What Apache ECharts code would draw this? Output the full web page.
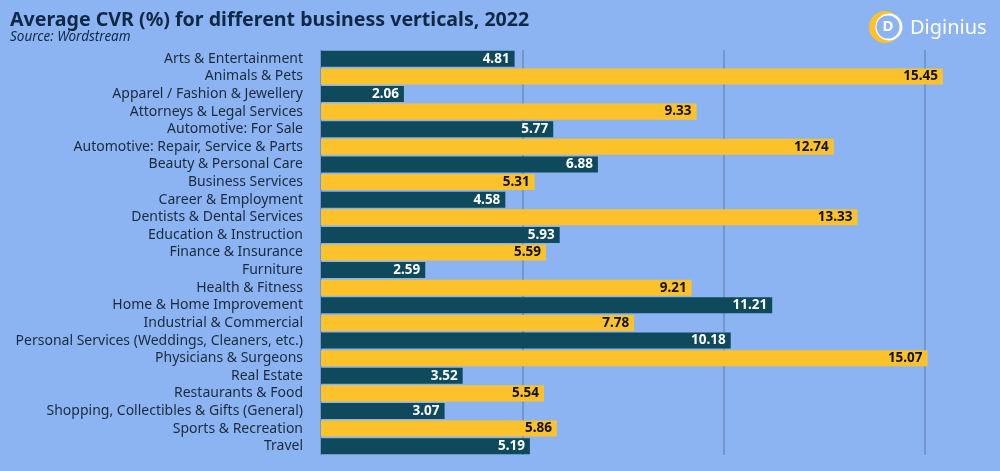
<!DOCTYPE html>
<html><head><meta charset="utf-8">
<script src="https://cdn.jsdelivr.net/npm/echarts@6/dist/echarts.min.js"></script>
<style>html,body{margin:0;padding:0;background:#8db4f2;}#c{width:1000px;height:471px;}</style>
</head><body><div id="c"></div>
<script>
const categories = ["Arts & Entertainment","Animals & Pets","Apparel / Fashion & Jewellery","Attorneys & Legal Services","Automotive: For Sale","Automotive: Repair, Service & Parts","Beauty & Personal Care","Business Services","Career & Employment","Dentists & Dental Services","Education & Instruction","Finance & Insurance","Furniture","Health & Fitness","Home & Home Improvement","Industrial & Commercial","Personal Services (Weddings, Cleaners, etc.)","Physicians & Surgeons","Real Estate","Restaurants & Food","Shopping, Collectibles & Gifts (General)","Sports & Recreation","Travel"];
const values = [4.81,15.45,2.06,9.33,5.77,12.74,6.88,5.31,4.58,13.33,5.93,5.59,2.59,9.21,11.21,7.78,10.18,15.07,3.52,5.54,3.07,5.86,5.19];
const title = "Average CVR (%) for different business verticals, 2022";
const subtitle = "Source: Wordstream";
const DARK = "#0e495c", YELLOW = "#fcc22b", BG = "#8db4f2";
const font = "Noto Sans";
const chart = echarts.init(document.getElementById('c'));
chart.setOption({
  backgroundColor: BG,
  animation: false,
  title: [{text: title, left: 5, top: 5, textStyle:{fontFamily:font, fontWeight:'bold', fontSize:19.6, color:'#0f2845'}},
          {text: subtitle, left: 5, top: 25, textStyle:{fontFamily:font, fontStyle:'italic', fontWeight:'normal', fontSize:13.5, color:'#0f2845'}}],
  grid: {left: 321, right: 35, top: 50, bottom: 16},
  xAxis: {type:'value', min:0, max:16, interval:5, axisLabel:{show:false}, axisLine:{show:false}, axisTick:{show:false},
          splitLine:{show:true, showMaxLine:false, lineStyle:{color:'#6d8cc0', width:1.5}}},
  yAxis: {type:'category', data: categories, inverse:true, axisTick:{show:false},
          axisLine:{show:false},
          axisLabel:{interval:0, hideOverlap:false, fontFamily:font, fontSize:14, lineHeight:14, color:'#1b2a3a', margin:18}},
  series: [{type:'bar', data: values.map((v,i)=>({value:v, itemStyle:{color: i%2===0?DARK:YELLOW},
            label:{color: i%2===0?'#ffffff':'#111111'}})),
            barCategoryGap:'9%',
            label:{show:true, position:'insideRight', fontFamily:font, fontWeight:'bold', fontSize:13.5, formatter: p=>p.value.toFixed(2)}}],
  graphic: [
    {type:'circle', shape:{cx:885, cy:27, r:16}, style:{fill:YELLOW}},
    {type:'circle', shape:{cx:889, cy:27, r:13.5}, style:{fill:'#ffffff'}},
    {type:'circle', shape:{cx:888, cy:27, r:11.5}, style:{fill:BG}},
    {type:'text', x:888, y:27, style:{text:'D', fill:'#ffffff', font:'bold 15px "Noto Sans"', align:'center', verticalAlign:'middle'}},
    {type:'text', x:910, y:28, style:{text:'Diginius', fill:'#ffffff', font:'20px "Noto Sans"', verticalAlign:'middle'}}
  ]
});
</script></body></html>
